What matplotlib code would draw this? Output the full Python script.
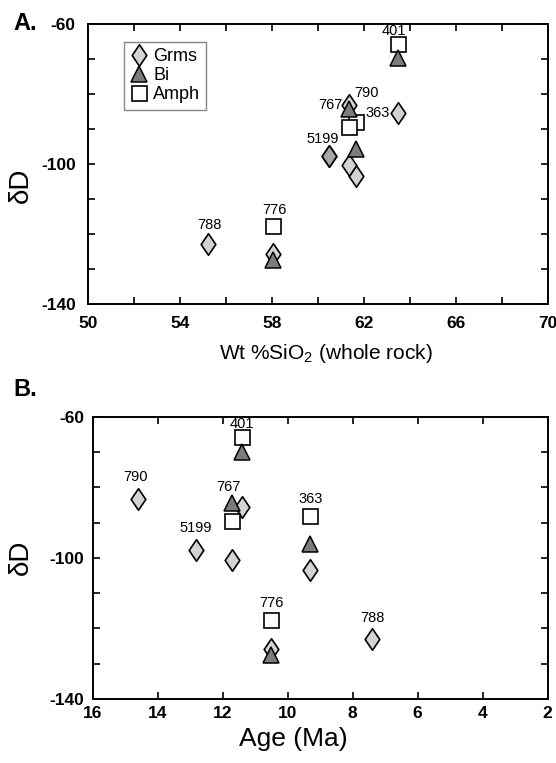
import matplotlib
matplotlib.use("Agg")
import matplotlib.pyplot as plt
from matplotlib.path import Path
import numpy as np

plt.rcParams['font.family'] = ['Liberation Sans', 'DejaVu Sans']
plt.rcParams['axes.unicode_minus'] = False
plt.rcParams['mathtext.fontset'] = 'custom'
plt.rcParams['mathtext.rm'] = 'Liberation Sans'

# sample data
samples = ['788', '776', '401', '363', '767', '790', '5199']
sio2 = [55.2, 58.03, 63.5, 61.65, 61.35, 61.35, 60.5]
age = [7.4, 10.5, 11.4, 9.3, 11.72, 14.62, 12.82]
dD_grms = [-122.9, -125.8, -85.6, -103.5, -100.5, -83.3, -97.8]
dD_bi = [np.nan, -127.5, -69.9, -95.9, -84.3, np.nan, np.nan]
dD_amph = [np.nan, -117.7, -65.8, -88.0, -89.5, np.nan, np.nan]

# label offsets in points (dx, dy) from the top-most marker of each sample
offsets_a = {'788': (1, 13.5), '776': (1.5, 11.5), '401': (-3, 9), '363': (15.5, 6.5),
             '767': (-13, 3), '790': (12.5, 9), '5199': (-5, 12.5)}
offsets_b = {'788': (0, 15), '776': (0, 12.5), '401': (-0.5, 9.6), '363': (0, 12),
             '767': (-2.4, 11.5), '790': (-1.2, 16), '5199': (0, 16)}

diamond = Path([(0, 1), (0.68, 0), (0, -1), (-0.68, 0), (0, 1)],
               [Path.MOVETO, Path.LINETO, Path.LINETO, Path.LINETO, Path.CLOSEPOLY])

fig = plt.figure(figsize=(5.56, 7.63), dpi=100)
ax_a = fig.add_axes([0.1588, 0.6016, 0.826, 0.3676])
ax_b = fig.add_axes([0.1667, 0.0839, 0.8183, 0.3696])


def draw_panel(ax, x, offsets, dark=()):
    ax.plot(x, dD_grms, marker=diamond, ls='none', ms=15.5, mfc='#d3d3d3', mec='black',
            mew=1.2, label='Grms', zorder=3)
    for i, s in enumerate(samples):
        if s in dark:
            ax.plot(x[i], dD_grms[i], marker=diamond, ls='none', ms=15.5, mfc='#a6a6a6',
                    mec='black', mew=1.2, zorder=3)
    ax.plot(x, dD_bi, '^', ms=11.5, mfc='#7c7c7c', mec='black', mew=1.1, label='Bi', zorder=4)
    ax.plot(x, dD_amph, 's', ms=10.8, mfc='white', mec='black', mew=1.2, label='Amph', zorder=3)
    for i, s in enumerate(samples):
        top = np.nanmax([dD_grms[i], dD_bi[i], dD_amph[i]])
        ax.annotate(s, (x[i], top), xytext=offsets[s], textcoords='offset points',
                    ha='center', va='center', fontsize=10.5, zorder=5)
    ax.set_ylim(-140, -60)
    ax.set_yticks([-140, -100, -60])
    ax.set_yticks(np.arange(-140, -59, 10), minor=True)
    ax.tick_params(which='both', direction='in', top=True, right=True,
                   length=5, width=1.2, labelsize=12.5)
    for sp in ax.spines.values():
        sp.set_linewidth(1.4)
    ax.set_ylabel('δD', fontsize=20)


draw_panel(ax_a, sio2, offsets_a, dark=('5199',))
ax_a.set_xlim(50, 70)
ax_a.set_xticks(np.arange(50, 71, 4))
ax_a.set_xticks(np.arange(50, 71, 2), minor=True)
ax_a.tick_params(axis='x', pad=9)
ax_a.tick_params(axis='y', pad=9)
ax_a.yaxis.set_label_coords(-0.118, 0.424)
ax_a.set_xlabel('Wt %SiO$_\\mathregular{2}$ (whole rock)', fontsize=15)
ax_a.xaxis.set_label_coords(0.517, -0.135)
leg = ax_a.legend(loc='upper left', bbox_to_anchor=(0.078, 0.935), borderaxespad=0,
                  fontsize=13, handletextpad=0.25, labelspacing=0.12,
                  handlelength=1.0, borderpad=0.35, fancybox=False, framealpha=1)
leg.get_frame().set_edgecolor('#888888')
leg.get_frame().set_linewidth(1.0)

draw_panel(ax_b, age, offsets_b)
ax_b.set_xlim(16, 2)
ax_b.set_xticks(np.arange(16, 1, -2))
ax_b.tick_params(axis='x', pad=5)
ax_b.tick_params(axis='y', pad=6)
ax_b.yaxis.set_label_coords(-0.129, 0.502)
ax_b.set_xlabel('Age (Ma)', fontsize=19)
ax_b.xaxis.set_label_coords(0.4415, -0.1)

for ax in (ax_a, ax_b):
    for lab in ax.get_xticklabels() + ax.get_yticklabels():
        lab.set_fontweight('bold')

fig.text(0.046, 0.969, 'A.', fontsize=17, fontweight='bold', va='center', ha='center')
fig.text(0.046, 0.489, 'B.', fontsize=17, fontweight='bold', va='center', ha='center')

fig.savefig('out.png', dpi=100)
